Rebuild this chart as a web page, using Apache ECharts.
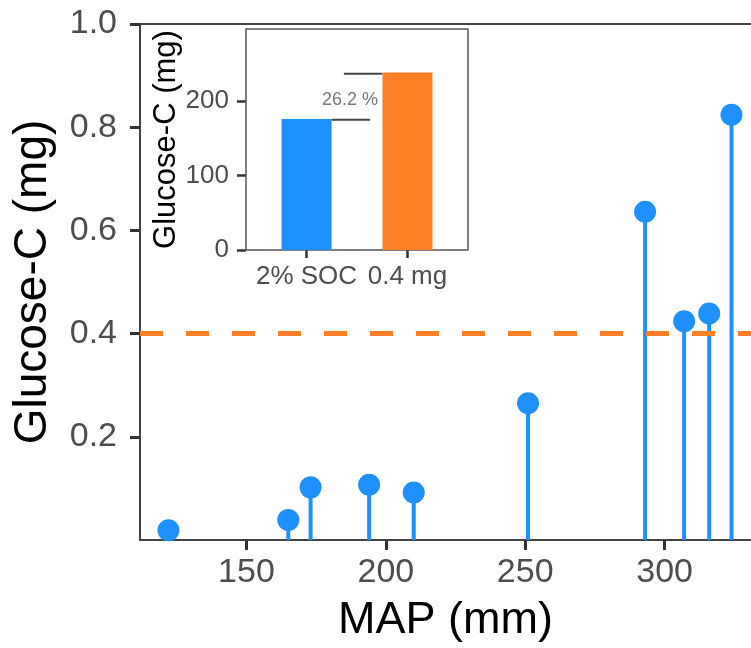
<!DOCTYPE html>
<html>
<head>
<meta charset="utf-8">
<script src="https://cdn.jsdelivr.net/npm/echarts@6/dist/echarts.min.js"></script>
<style>
html,body{margin:0;padding:0;background:#fff;}
#c{width:751px;height:648px;}
</style>
</head>
<body>
<div id="c"></div>
<script>
// Main lollipop data
var mapVals = [122, 165, 173, 194, 210, 251, 293, 307, 316, 324];
var glucoseVals = [0.019, 0.039, 0.102, 0.107, 0.092, 0.265, 0.636, 0.424, 0.439, 0.824];
var threshold = 0.4;
var xTicks = [150, 200, 250, 300];
var yTicks = [0.2, 0.4, 0.6, 0.8, 1.0];

// Inset bar data
var insetCats = ['2% SOC', '0.4 mg'];
var insetVals = [176, 238.5];
var insetTicks = [0, 100, 200];
var bracketLow = [[1.25, 175], [1.63, 175]];
var bracketHigh = [[1.37, 237], [1.75, 237]];
var pctLabel = '26.2 %';
var pctPos = [1.43, 201];

var FONT = 'Liberation Sans, Arial, Helvetica, sans-serif';
var BLUE = '#1E90FF';
var ORANGE = '#FF7F24';

var pts = mapVals.map(function (m, i) { return [m, glucoseVals[i]]; });

var chart = echarts.init(document.getElementById('c'), null, {renderer: 'canvas'});
chart.setOption({
  animation: false,
  backgroundColor: '#fff',
  textStyle: {fontFamily: FONT},
  grid: [
    {left: 140, top: 24, right: 0, bottom: 108, containLabel: false},
    {left: 246, top: 29, width: 222, height: 221, show: true, borderColor: '#555', borderWidth: 1.5, backgroundColor: '#fff', z: 5}
  ],
  xAxis: [
    {
      gridIndex: 0, type: 'value', min: 111.8, max: 331,
      name: 'MAP (mm)', nameLocation: 'middle', nameGap: 58,
      nameTextStyle: {fontSize: 45, color: '#000', fontFamily: FONT},
      axisLine: {show: true, lineStyle: {color: '#444', width: 2}},
      axisTick: {show: true, length: 10, lineStyle: {color: '#333', width: 3}, customValues: xTicks},
      axisLabel: {fontSize: 34, color: '#4D4D4D', margin: 16, fontFamily: FONT, customValues: xTicks},
      splitLine: {show: false}
    },
    {
      gridIndex: 0, type: 'value', min: 111.8, max: 331, position: 'top',
      axisLine: {show: true, onZero: false, lineStyle: {color: '#444', width: 2}},
      axisTick: {show: false}, axisLabel: {show: false}, splitLine: {show: false}
    },
    {
      gridIndex: 1, type: 'value', min: 0.4, max: 2.6,
      axisLine: {show: false},
      axisTick: {show: true, length: 8, lineStyle: {color: '#333', width: 2.5}, customValues: [1, 2]},
      axisLabel: {fontSize: 26, color: '#4D4D4D', margin: 14, fontFamily: FONT, customValues: [1, 2],
        formatter: function (v) { return insetCats[Math.round(v) - 1] || ''; }},
      splitLine: {show: false}
    }
  ],
  yAxis: [
    {
      gridIndex: 0, type: 'value', min: 0, max: 1,
      name: 'Glucose-C (mg)', nameLocation: 'middle', nameGap: 84, nameRotate: 90,
      nameTextStyle: {fontSize: 46, color: '#000', fontFamily: FONT},
      axisLine: {show: true, onZero: false, lineStyle: {color: '#444', width: 2}},
      axisTick: {show: true, length: 10, lineStyle: {color: '#333', width: 3}, customValues: yTicks},
      axisLabel: {fontSize: 34, color: '#4D4D4D', margin: 23, fontFamily: FONT, customValues: yTicks,
        formatter: function (v) { return v.toFixed(1); }},
      splitLine: {show: false}
    },
    {
      gridIndex: 1, type: 'value', min: 0, max: 297,
      name: 'Glucose-C (mg)', nameLocation: 'middle', nameGap: 62, nameRotate: 90,
      nameTextStyle: {fontSize: 31, color: '#000', fontFamily: FONT},
      axisLine: {show: false},
      axisTick: {show: true, length: 9, lineStyle: {color: '#333', width: 2.5}, customValues: insetTicks},
      axisLabel: {fontSize: 26, color: '#4D4D4D', margin: 17, fontFamily: FONT, customValues: insetTicks},
      splitLine: {show: false}
    }
  ],
  series: [
    {
      type: 'bar', xAxisIndex: 0, yAxisIndex: 0, barWidth: 4,
      data: pts, itemStyle: {color: BLUE}, z: 2
    },
    {
      type: 'line', xAxisIndex: 0, yAxisIndex: 0, data: [], z: 3,
      markLine: {
        silent: true, symbol: ['none', 'none'],
        label: {show: false},
        lineStyle: {color: ORANGE, width: 5, type: [23, 23]},
        data: [{yAxis: threshold}]
      }
    },
    {
      type: 'scatter', xAxisIndex: 0, yAxisIndex: 0, symbol: 'circle', symbolSize: 22,
      data: pts, itemStyle: {color: BLUE, opacity: 1}, z: 4
    },
    {
      type: 'bar', xAxisIndex: 2, yAxisIndex: 1, barWidth: 50,
      data: insetVals.map(function (v, i) {
        return {value: [i + 1, v], itemStyle: {color: i === 0 ? BLUE : ORANGE}};
      }), z: 6
    },
    {
      type: 'line', xAxisIndex: 2, yAxisIndex: 1, data: bracketLow, symbol: 'none',
      lineStyle: {color: '#444', width: 2}, z: 7
    },
    {
      type: 'line', xAxisIndex: 2, yAxisIndex: 1, data: bracketHigh, symbol: 'none',
      lineStyle: {color: '#444', width: 2}, z: 7
    },
    {
      type: 'scatter', xAxisIndex: 2, yAxisIndex: 1, symbolSize: 0, data: [pctPos], z: 8,
      label: {show: true, position: 'inside', formatter: pctLabel, fontSize: 18, color: '#555', fontFamily: FONT}
    }
  ]
});
</script>
</body>
</html>
